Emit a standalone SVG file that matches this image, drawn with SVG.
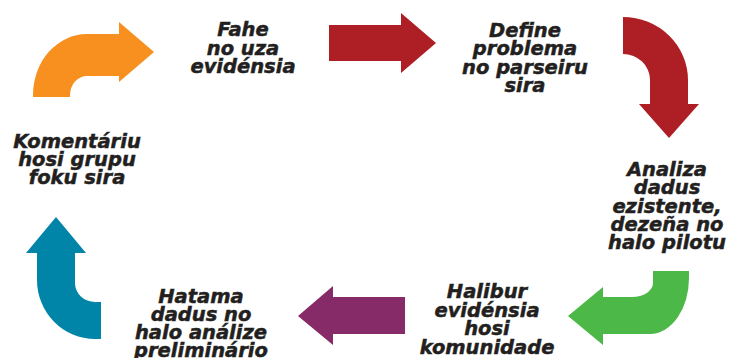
<svg xmlns="http://www.w3.org/2000/svg" width="743" height="358" viewBox="0 0 743 358">
<style>
.lbl{font-family:"DejaVu Sans","Liberation Sans",sans-serif;font-weight:bold;font-style:italic;font-size:19.5px;fill:#231F20;stroke:#231F20;stroke-width:0.5px;text-anchor:middle}
</style>
<rect width="743" height="358" fill="#ffffff"/>
<g id="connectors">
<path id="c-orange" fill="#F7901E" d="M33,97 L33,95 A54,61 0 0 1 87,34 L119,34 L119,22 L154,52 L119,82 L119,76 L87,76 A17,19 0 0 0 70,95 L70,97 Z"/>
<path id="c-red1" fill="#AD1F24" d="M329,25 L401,25 L401,13 L436,43 L401,73 L401,61 L329,61 Z"/>
<path id="c-red2" fill="#AD1F24" d="M623,17 A65,63 0 0 1 688,80 L688,104 L699,104 L669,138 L639,104 L650,104 L650,80 A27,26 0 0 0 623,54 Z"/>
<path id="c-green" fill="#4BB848" d="M653,271 L689,271 L689,278 A39,56 0 0 1 650,334 L603,334 L603,345 L568,316 L603,287 L603,297 L632,297 A21,14 0 0 0 653,283 Z"/>
<path id="c-purple" fill="#862A68" d="M405,297 L333,297 L333,286 L298,316 L333,345 L333,334 L405,334 Z"/>
<path id="c-teal" fill="#0085A8" d="M101,339 L95,339 A58,59 0 0 1 37,280 L37,253 L26,253 L56,217 L86,253 L75,253 L75,283 A20,19 0 0 0 95,302 L101,302 Z"/>
</g>
<g id="n-fahe">
<text class="lbl" x="243" y="36">Fahe</text>
<text class="lbl" x="243" y="54.5">no uza</text>
<text class="lbl" x="243" y="73">evidénsia</text>
</g>
<g id="n-define">
<text class="lbl" x="525" y="36.5">Define</text>
<text class="lbl" x="525" y="55">problema</text>
<text class="lbl" x="525" y="73.5">no parseiru</text>
<text class="lbl" x="525" y="92">sira</text>
</g>
<g id="n-analiza">
<text class="lbl" x="667" y="176">Analiza</text>
<text class="lbl" x="667" y="194">dadus</text>
<text class="lbl" x="667" y="212.5">ezistente,</text>
<text class="lbl" x="667" y="231">dezeña no</text>
<text class="lbl" x="667" y="249">halo pilotu</text>
</g>
<g id="n-halibur">
<text class="lbl" x="487" y="298">Halibur</text>
<text class="lbl" x="487" y="316.5">evidénsia</text>
<text class="lbl" x="487" y="335">hosi</text>
<text class="lbl" x="487" y="353.5">komunidade</text>
</g>
<g id="n-hatama">
<text class="lbl" x="201" y="303">Hatama</text>
<text class="lbl" x="201" y="321">dadus no</text>
<text class="lbl" x="201" y="339">halo análize</text>
<text class="lbl" x="201" y="357">preliminário</text>
</g>
<g id="n-komentariu">
<text class="lbl" x="77" y="148">Komentáriu</text>
<text class="lbl" x="77" y="166">hosi grupu</text>
<text class="lbl" x="77" y="184">foku sira</text>
</g>
</svg>
